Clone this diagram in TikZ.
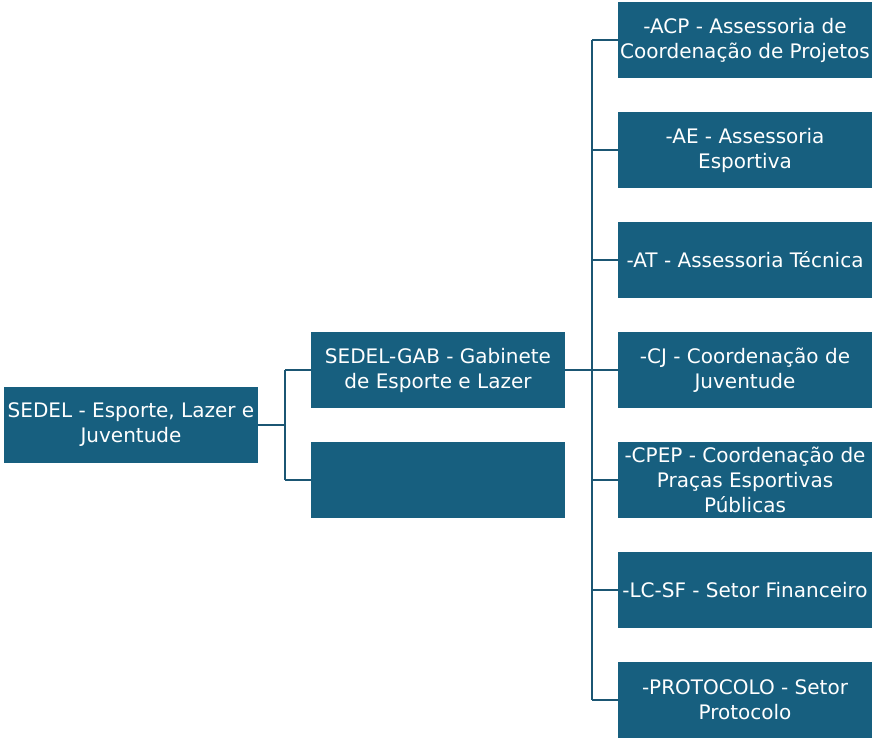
\documentclass[tikz,border=0pt]{standalone}
\usepackage{fontspec}
\setmainfont{DejaVu Sans}
\definecolor{boxblue}{HTML}{175F7F}
\definecolor{linkblue}{HTML}{1B5673}
\begin{document}
\begin{tikzpicture}[x=1pt,y=-1pt,
  unit/.style={fill=boxblue,text=white,minimum width=254pt,minimum height=76pt,
    inner sep=0pt,align=center,font=\fontsize{20}{25}\selectfont},
  link/.style={draw=linkblue,line width=2pt}]
\useasboundingbox (0,0) rectangle (878,740);
\node[unit] (root) at (131,425) {SEDEL - Esporte, Lazer e\\Juventude};
\node[unit] (gab) at (438,370) {SEDEL-GAB - Gabinete\\de Esporte e Lazer};
\node[unit] (empty) at (438,480) {};
\node[unit] (acp) at (745,40) {-ACP - Assessoria de\\Coordenação de Projetos};
\node[unit] (ae) at (745,150) {-AE - Assessoria\\Esportiva};
\node[unit] (at) at (745,260) {-AT - Assessoria Técnica};
\node[unit] (cj) at (745,370) {-CJ - Coordenação de\\Juventude};
\node[unit] (cpep) at (745,480) {-CPEP - Coordenação de\\Praças Esportivas\\Públicas};
\node[unit] (lcsf) at (745,590) {-LC-SF - Setor Financeiro};
\node[unit] (prot) at (745,700) {-PROTOCOLO - Setor\\Protocolo};
\coordinate (b1) at (285,425);
\coordinate (b2) at (592,370);
\draw[link] (root.east) -- (b1);
\draw[link] (b1 |- gab.west) -- (b1 |- empty.west);
\draw[link] (b1 |- gab.west) -- (gab.west);
\draw[link] (b1 |- empty.west) -- (empty.west);
\draw[link] (gab.east) -- (b2);
\draw[link] (b2 |- acp.west) -- (b2 |- prot.west);
\foreach \n in {acp,ae,at,cj,cpep,lcsf,prot}
  \draw[link] (b2 |- \n.west) -- (\n.west);
\end{tikzpicture}
\end{document}
